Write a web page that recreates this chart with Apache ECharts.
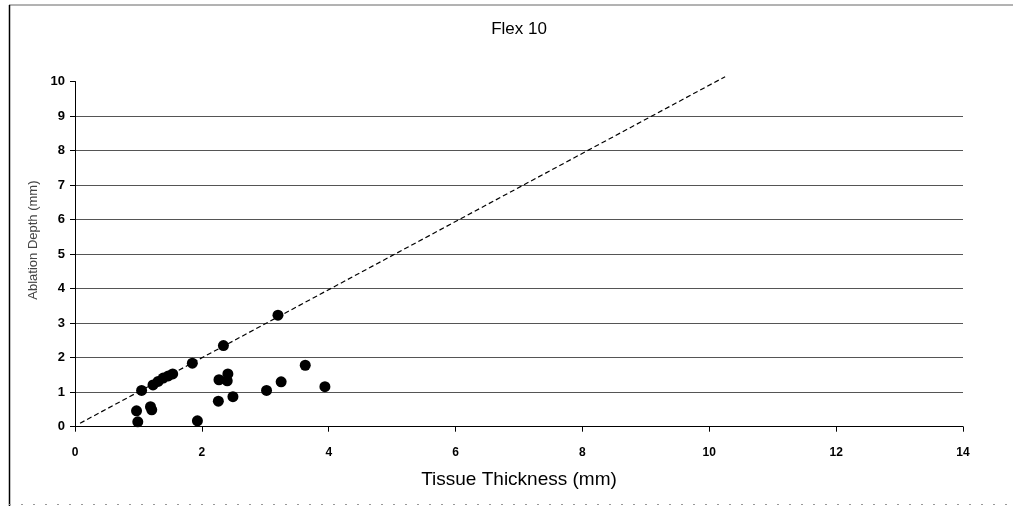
<!DOCTYPE html>
<html>
<head>
<meta charset="utf-8">
<script src="https://cdn.jsdelivr.net/npm/echarts@6/dist/echarts.min.js"></script>
<style>
  html, body { margin: 0; padding: 0; background: #fff; }
  #chart { width: 1013px; height: 506px; }
</style>
</head>
<body>
<div id="chart"></div>
<script>
// measured points: tissue thickness (mm) vs ablation depth (mm)
const thickness = [3.20, 2.34, 1.85, 1.05, 1.23, 1.31, 1.39, 1.47, 1.54, 0.97, 0.99, 1.19, 1.21, 1.93, 2.27, 2.41, 2.40, 2.26, 2.49, 3.02, 3.25, 3.63, 3.94];
const depth = [3.23, 2.35, 1.84, 1.05, 1.21, 1.31, 1.41, 1.47, 1.53, 0.46, 0.14, 0.58, 0.49, 0.17, 1.36, 1.53, 1.33, 0.74, 0.87, 1.05, 1.30, 1.78, 1.16];
// dashed reference line ends
const lineX = [0.08, 10.25];
const lineY = [0.1, 10.14];
const xTicks = [0, 2, 4, 6, 8, 10, 12, 14];
const yTicks = [0, 1, 2, 3, 4, 5, 6, 7, 8, 9, 10];

const points = thickness.map((t, i) => [t, depth[i]]);
const refLine = lineX.map((x, i) => [x, lineY[i]]);

const chart = echarts.init(document.getElementById("chart"));
chart.setOption({
  animation: false,
  backgroundColor: "#fff",
  title: {
    text: "Flex 10",
    left: 514,
    top: 16,
    textAlign: "center",
    textStyle: { fontFamily: "Liberation Sans", fontSize: 17, fontWeight: "normal", color: "#000" },
  },
  grid: { left: 75, right: 50, top: 81.5, bottom: 79.3, containLabel: false, outerBoundsMode: "none" },
  xAxis: {
    type: "value",
    min: xTicks[0],
    max: xTicks[xTicks.length - 1],
    interval: 2,
    name: "Tissue Thickness (mm)",
    nameLocation: "middle",
    nameGap: 44,
    nameTextStyle: { fontFamily: "Liberation Sans", fontSize: 19, color: "#000" },
    axisLine: { lineStyle: { color: "#000", width: 1 } },
    axisTick: { length: 5, lineStyle: { color: "#000" } },
    axisLabel: { margin: 20, fontFamily: "Liberation Sans Narrow, Liberation Sans", fontSize: 12, fontWeight: "bold", color: "#000" },
    splitLine: { show: false },
  },
  yAxis: {
    type: "value",
    min: yTicks[0],
    max: yTicks[yTicks.length - 1],
    interval: 1,
    name: "Ablation Depth (mm)",
    nameLocation: "middle",
    nameGap: 34,
    nameTextStyle: { fontFamily: "Liberation Sans", fontSize: 13, color: "#444", padding: [0, 0, 0, 28] },
    axisLine: { show: true, lineStyle: { color: "#000", width: 1 } },
    axisTick: { show: true, length: 5, lineStyle: { color: "#000" } },
    axisLabel: { margin: 10, fontFamily: "Liberation Sans", fontSize: 13, fontWeight: "bold", color: "#000" },
    splitLine: { show: true, showMaxLine: false, lineStyle: { color: "#555", width: 1 } },
  },
  series: [
    {
      type: "line",
      data: refLine,
      symbol: "none",
      clip: false,
      lineStyle: { color: "#000", width: 1.2, type: [5, 3] },
      z: 2,
    },
    {
      type: "scatter",
      data: points,
      symbol: "circle",
      symbolSize: 11,
      itemStyle: { color: "#000", opacity: 1 },
      z: 3,
    },
  ],
  graphic: [
    { type: "line", shape: { x1: 9, y1: 5, x2: 1013, y2: 5 }, style: { stroke: "#666", lineWidth: 1 } },
    { type: "line", shape: { x1: 9.5, y1: 5, x2: 9.5, y2: 506 }, style: { stroke: "#000", lineWidth: 1.5 } },
    { type: "line", shape: { x1: 9, y1: 504.5, x2: 1013, y2: 504.5 }, style: { stroke: "#999", lineWidth: 1, lineDash: [2, 10] } },
  ],
});
</script>
</body>
</html>
